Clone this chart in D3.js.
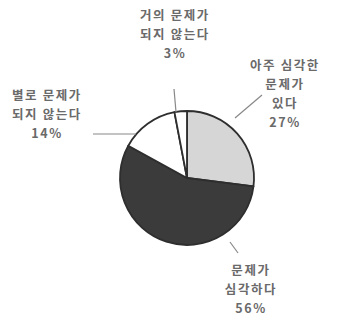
<!DOCTYPE html>
<html>
<head>
<meta charset="utf-8">
<script src="https://cdn.jsdelivr.net/npm/d3@7"></script>
<style>
  body { margin: 0; background: #fff; }
</style>
</head>
<body>
<script>
// chart data
var categories = ["아주 심각한 문제가 있다", "문제가 심각하다", "별로 문제가 되지 않는다", "거의 문제가 되지 않는다"];
var values = [27, 56, 14, 3];
var fills = ["#d6d6d6", "#3b3b3b", "#ffffff", "#ffffff"];
// label lines per slice
var labelLines = [
  ["아주 심각한", "문제가", "있다", "27%"],
  ["문제가", "심각하다", "56%"],
  ["별로 문제가", "되지 않는다", "14%"],
  ["거의 문제가", "되지 않는다", "3%"]
];

var width = 339, height = 324;
var cx = 187, cy = 178, radius = 67;

// label placement (x centre, first baseline)
var labelPos = [
  {x: 285, y: 70},
  {x: 251, y: 275},
  {x: 47, y: 100},
  {x: 175, y: 20}
];
var lineGap = 19;

// leader lines
var leaders = [
  {from: [235, 118], to: [262, 95]},
  {from: [230, 242], to: [238, 253]},
  {from: [93, 134], to: [136, 134]},
  {from: [174, 89], to: [176, 112]}
];

var svg = d3.select("body")
            .append("svg")
            .attr("width", width)
            .attr("height", height);

var pie = d3.pie().sort(null).value(function(d) { return d; });
var arc = d3.arc().innerRadius(0).outerRadius(radius);

var g = svg.append("g").attr("transform", "translate(" + cx + "," + cy + ")");

g.selectAll("path")
 .data(pie(values))
 .enter().append("path")
 .attr("d", arc)
 .attr("fill", function(d, i) { return fills[i]; })
 .attr("stroke", "#2e2e2e")
 .attr("stroke-width", 1.8)
 .attr("stroke-linejoin", "round");

// leader lines
svg.selectAll("line.leader")
   .data(leaders)
   .enter().append("line")
   .attr("class", "leader")
   .attr("x1", function(d) { return d.from[0]; })
   .attr("y1", function(d) { return d.from[1]; })
   .attr("x2", function(d) { return d.to[0]; })
   .attr("y2", function(d) { return d.to[1]; })
   .attr("stroke", "#888")
   .attr("stroke-width", 1.2);

// labels
var labels = svg.selectAll("text.label")
   .data(labelLines)
   .enter().append("text")
   .attr("class", "label")
   .attr("text-anchor", "middle")
   .attr("font-family", "'Noto Sans CJK KR', 'Noto Sans', sans-serif")
   .attr("font-size", 12.5)
   .attr("font-weight", "bold")
   .attr("letter-spacing", 1.6)
   .attr("fill", "#6a6a6a");

labels.each(function(lines, i) {
  var t = d3.select(this);
  lines.forEach(function(s, j) {
    t.append("tspan")
     .attr("x", labelPos[i].x)
     .attr("y", labelPos[i].y + j * lineGap)
     .text(s);
  });
});
</script>
</body>
</html>
